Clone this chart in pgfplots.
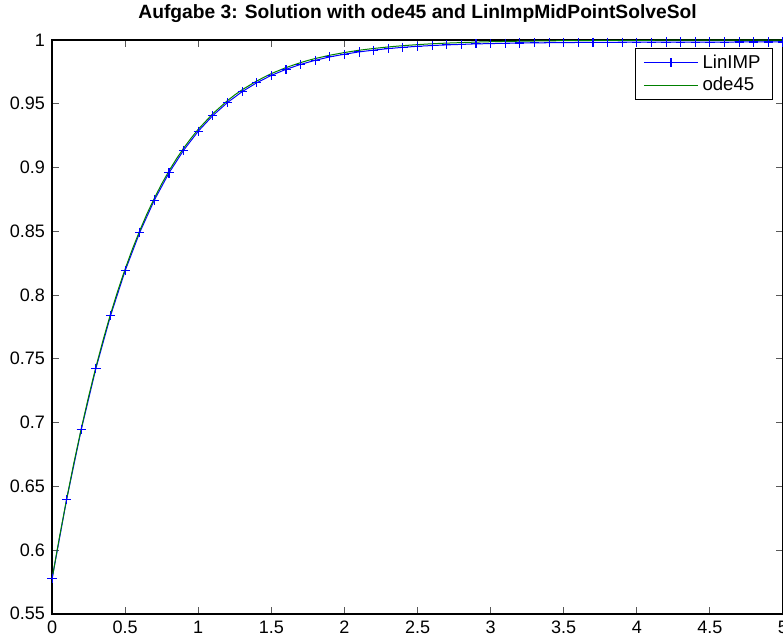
\documentclass[border=0pt]{standalone}
\usepackage{fontspec}
\setmainfont{Liberation Sans}
\usepackage{pgfplots}
\pgfplotsset{compat=1.18}

\begin{document}
\begin{tikzpicture}
\begin{axis}[
  name=ax,
  scale only axis,
  width=365pt, height=286.5pt,
  xmin=0, xmax=5,
  ymin=0.55, ymax=1,
  xtick={0,0.5,1,1.5,2,2.5,3,3.5,4,4.5,5},
  ytick={0.55,0.6,0.65,0.7,0.75,0.8,0.85,0.9,0.95,1},
  yticklabels={0.55,0.6,0.65,0.7,0.75,0.8,0.85,0.9,0.95,1},
  xticklabels={0,0.5,1,1.5,2,2.5,3,3.5,4,4.5,5},
  tick align=inside,
  major tick length=3.5pt,
  tick style={black!65, line width=0.5pt},
  axis line style={line width=0.75pt},
  tick label style={font=\fontsize{9}{11}\selectfont},
  title={\bfseries Aufgabe 3: Solution with ode45 and LinImpMidPointSolveSol},
  title style={font=\fontsize{9.6}{11}\selectfont, yshift=-1pt},
  legend cell align=left,
  legend style={at={(rel axis cs:1,1)}, anchor=north east, xshift=-5pt, yshift=-4pt,
    font=\fontsize{9.3}{11}\selectfont, draw=black, line width=0.5pt, fill=white,
    inner xsep=4pt, inner ysep=1pt, row sep=-1pt},
  legend image code/.code={\draw[mark repeat=2,mark phase=2] plot coordinates {(0pt,0pt) (13.5pt,0pt) (27pt,0pt)};},
  clip=false,
]
% LinIMP: linearised implicit midpoint, step 0.1
\addplot[blue, line width=0.5pt, mark=+, mark size=2.3pt, mark options={line width=0.55pt}] coordinates {
  (0,0.5774) (0.1,0.6398) (0.2,0.6946) (0.3,0.7425) (0.4,0.7838)
  (0.5,0.8191) (0.6,0.8492) (0.7,0.8745) (0.8,0.8958) (0.9,0.9136)
  (1.0,0.9285) (1.1,0.9408) (1.2,0.9510) (1.3,0.9595) (1.4,0.9665)
  (1.5,0.9723) (1.6,0.9770) (1.7,0.9809) (1.8,0.9841) (1.9,0.9868)
  (2.0,0.9889) (2.1,0.9907) (2.2,0.9921) (2.3,0.9933) (2.4,0.9943)
  (2.5,0.9951) (2.6,0.9957) (2.7,0.9962) (2.8,0.9966) (2.9,0.9970)
  (3.0,0.9972) (3.1,0.9975) (3.2,0.9977) (3.3,0.9978) (3.4,0.9979)
  (3.5,0.9980) (3.6,0.9981) (3.7,0.9982) (3.8,0.9982) (3.9,0.9983)
  (4.0,0.9983) (4.1,0.9983) (4.2,0.9984) (4.3,0.9984) (4.4,0.9984)
  (4.5,0.9984) (4.6,0.9984) (4.7,0.9985) (4.8,0.9985) (4.9,0.9985)
  (5.0,0.9985)
};
\addlegendentry{LinIMP}
% ode45
\addplot[color={rgb,255:red,0;green,128;blue,0}, line width=0.5pt] coordinates {
  (0,0.5774) (0.05,0.6098) (0.1,0.6402) (0.15,0.6688) (0.2,0.6954)
  (0.25,0.7204) (0.3,0.7436) (0.35,0.7651) (0.4,0.7851) (0.45,0.8035)
  (0.5,0.8205) (0.55,0.8362) (0.6,0.8506) (0.65,0.8639) (0.7,0.8760)
  (0.75,0.8872) (0.8,0.8974) (0.85,0.9067) (0.9,0.9152) (0.95,0.9229)
  (1.0,0.9300) (1.1,0.9423) (1.2,0.9525) (1.25,0.9570) (1.3,0.9610)
  (1.4,0.9679) (1.5,0.9737) (1.6,0.9784) (1.7,0.9823) (1.75,0.9840)
  (1.8,0.9855) (1.9,0.9881) (2.0,0.9902) (2.1,0.9920) (2.2,0.9934)
  (2.3,0.9946) (2.4,0.9956) (2.5,0.9964) (2.6,0.9971) (2.7,0.9976)
  (2.8,0.9980) (2.9,0.9984) (3.0,0.9987) (3.2,0.9991) (3.4,0.9994)
  (3.6,0.9996) (3.8,0.9997) (4.0,0.9998) (4.3,0.9999) (4.6,0.9999)
  (5.0,1.0000)
};
\addlegendentry{ode45}
\end{axis}
\pgfresetboundingbox
\path[use as bounding box] ([xshift=-26pt,yshift=-14pt]ax.south west) rectangle ([yshift=20pt]ax.north east);
\end{tikzpicture}
\end{document}
